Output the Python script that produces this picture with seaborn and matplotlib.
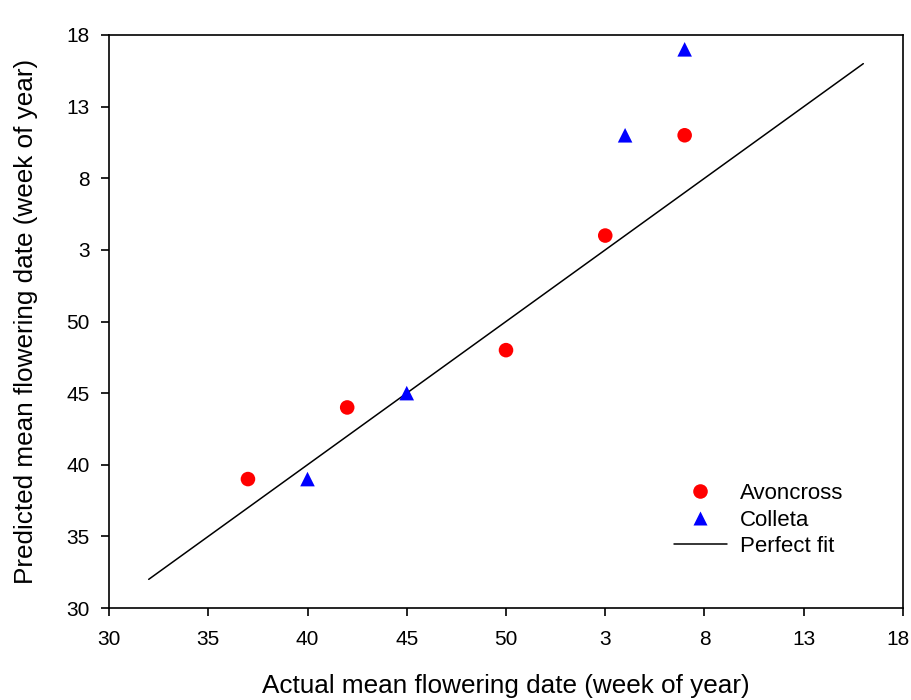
import matplotlib
matplotlib.use("Agg")
import matplotlib.pyplot as plt
import matplotlib.transforms as mtransforms
import seaborn as sns
import pandas as pd
import numpy as np

# Continuous week index (weeks after 52 wrap into next year: 55 -> week 3)
avon_actual = [37, 42, 50, 55, 59]
avon_pred = [39, 44, 48, 56, 63]
coll_actual = [40, 45, 56, 59]
coll_pred = [39, 45, 63, 69]
fit_x = [32, 68]
fit_y = [32, 68]
tick_pos = [30, 35, 40, 45, 50, 55, 60, 65, 70]
tick_labels = ["30", "35", "40", "45", "50", "3", "8", "13", "18"]

sns.set_theme(style="ticks")
plt.rcParams['font.family'] = ['Liberation Sans', 'DejaVu Sans']
plt.rcParams['text.color'] = 'black'
plt.rcParams['axes.labelcolor'] = 'black'

df = pd.DataFrame({
    "actual": avon_actual + coll_actual,
    "pred": avon_pred + coll_pred,
    "cultivar": ["Avoncross"] * len(avon_actual) + ["Colleta"] * len(coll_actual),
})

fig = plt.figure(figsize=(9.12, 7.0), dpi=100)
ax = fig.add_axes([109 / 912, 1 - 608 / 700, 794 / 912, 573 / 700])

sns.lineplot(x=fit_x, y=fit_y, ax=ax, color="black", linewidth=1.1, label="Perfect fit", zorder=1)
sns.scatterplot(data=df, x="actual", y="pred", hue="cultivar", style="cultivar",
                palette={"Avoncross": "#ff0000", "Colleta": "#0000ff"},
                markers={"Avoncross": "o", "Colleta": "^"},
                s=110, edgecolor="none", ax=ax, zorder=3)

ax.set_xlim(30, 70)
ax.set_ylim(30, 70)
ax.set_xticks(tick_pos)
ax.set_xticklabels(tick_labels)
ax.set_yticks(tick_pos)
ax.set_yticklabels(tick_labels)
ax.tick_params(axis="both", direction="out", length=6, width=1.2, labelsize=15,
               colors="black", labelcolor="black")
ax.tick_params(axis="x", pad=10)
ax.tick_params(axis="y", pad=8)
for sp in ax.spines.values():
    sp.set_linewidth(1.2)
    sp.set_color("black")

# keep the last x tick label inside the canvas
last = ax.get_xticklabels()[-1]
last.set_transform(last.get_transform() + mtransforms.ScaledTranslation(-5 / 100, 0, fig.dpi_scale_trans))

ax.set_xlabel("Actual mean flowering date (week of year)", fontsize=18.8, labelpad=18, color="black")
ax.set_ylabel("Predicted mean flowering date (week of year)", fontsize=18.8, labelpad=20, color="black")

handles, labels = ax.get_legend_handles_labels()
order = [labels.index("Avoncross"), labels.index("Colleta"), labels.index("Perfect fit")]
leg = ax.legend([handles[i] for i in order], [labels[i] for i in order],
                loc="lower right", bbox_to_anchor=(0.95, 0.054), frameon=False,
                fontsize=16, handlelength=2.35, handletextpad=0.6, labelspacing=0.25, markerscale=1.0)
for t in leg.get_texts():
    t.set_color("black")

fig.savefig("out.png", dpi=100)
